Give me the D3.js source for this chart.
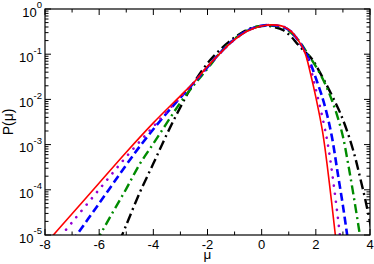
<!DOCTYPE html>
<html><head><meta charset="utf-8">
<script src="https://cdn.jsdelivr.net/npm/d3@7"></script>
<style>body{margin:0;background:#fff}svg{display:block}</style>
</head><body>
<svg id="c" width="374" height="264"></svg>
<script>
// ---- data ----
const xTicks = [-8,-6,-4,-2,0,2,4];
const yExp = [0,-1,-2,-3,-4,-5];

const muRed = [-8.0,-7.0,-6.0,-5.0,-4.0,-3.0,-2.5,-2.0,-1.5,-1.0,-0.5,0.0,0.4,0.8,1.1,1.4,1.6,1.8,2.0,2.25,2.5,2.72,2.8];
const pRed  = [6.17e-6,2.95e-5,1.41e-4,6.76e-4,3.02e-3,1.20e-2,2.40e-2,5.37e-2,0.110,0.209,0.331,0.422,0.445,0.412,0.316,0.182,0.107,3.80e-2,1.12e-2,1.91e-3,1.41e-4,1.0e-5,3.98e-6];

const muViolet = [-7.6,-7.0,-6.0,-5.0,-4.0,-3.0,-2.5,-2.0,-1.5,-1.0,-0.5,0.0,0.35,0.8,1.1,1.4,1.6,1.8,2.0,2.2,2.4,2.5,2.6,2.7,2.8,2.9,2.95];
const pViolet  = [6.92e-6,1.91e-5,1.02e-4,5.37e-4,2.51e-3,1.12e-2,2.34e-2,5.25e-2,0.111,0.211,0.335,0.427,0.442,0.407,0.316,0.182,0.112,5.01e-2,1.66e-2,5.25e-3,1.41e-3,6.31e-4,2.40e-4,8.51e-5,2.82e-5,8.91e-6,5.01e-6];

const muBlue = [-7.0,-6.0,-5.0,-4.5,-4.0,-3.5,-3.0,-2.5,-2.0,-1.5,-1.0,-0.5,0.0,0.35,0.8,1.1,1.4,1.6,1.8,2.0,2.2,2.4,2.6,2.8,3.0,3.15,3.25];
const pBlue  = [7.24e-6,5.01e-5,3.55e-4,9.12e-4,2.19e-3,5.01e-3,1.10e-2,2.34e-2,5.19e-2,0.112,0.214,0.339,0.427,0.437,0.398,0.309,0.182,0.117,6.31e-2,2.95e-2,1.32e-2,5.01e-3,1.41e-3,2.51e-4,4.47e-5,1.07e-5,3.98e-6];

const muGreen = [-6.1,-5.5,-5.0,-4.5,-4.0,-3.5,-3.0,-2.5,-2.0,-1.5,-1.0,-0.5,0.0,0.3,0.8,1.1,1.4,1.6,1.8,2.0,2.2,2.4,2.6,2.8,3.0,3.2,3.4,3.6,3.7];
const pGreen  = [7.24e-6,3.16e-5,1.05e-4,3.72e-4,1.05e-3,3.02e-3,8.51e-3,2.09e-2,4.79e-2,0.1135,0.219,0.343,0.427,0.432,0.389,0.295,0.191,0.126,8.32e-2,5.37e-2,3.31e-2,1.86e-2,9.33e-3,4.17e-3,1.51e-3,3.55e-4,7.08e-5,1.26e-5,5.01e-6];

const muBlack = [-5.25,-5.0,-4.5,-4.0,-3.5,-3.0,-2.5,-2.0,-1.5,-1.0,-0.5,0.0,0.3,0.8,1.1,1.3,1.55,1.85,2.0,2.3,2.6,2.9,3.2,3.45,3.63,3.82,4.0,4.1];
const pBlack  = [7.24e-6,1.66e-5,8.71e-5,3.80e-4,1.70e-3,6.76e-3,2.34e-2,6.31e-2,0.132,0.234,0.355,0.422,0.417,0.339,0.240,0.174,0.120,7.94e-2,5.75e-2,2.69e-2,1.20e-2,5.01e-3,1.66e-3,5.25e-4,1.91e-4,6.31e-5,1.91e-5,1.0e-5];

// ---- layout ----
const L = 45, R = 370, T = 9, B = 235;
const svg = d3.select('#c');
const x = d3.scaleLinear().domain([-8,4]).range([L,R]);
const y = d3.scaleLog().domain([1e-5,1]).range([B,T]);
const font = '"Liberation Sans", Arial, Helvetica, sans-serif';

svg.append('defs').append('clipPath').attr('id','clip')
  .append('rect').attr('x',L).attr('y',T).attr('width',R-L).attr('height',B-T);

// curves
const series = [
  {mu:muBlack, p:pBlack, color:'#000000', w:2.4, dash:'10,4,2,4', cap:'butt'},
  {mu:muGreen, p:pGreen, color:'#008b00', w:2.4, dash:'9,4,2,4', cap:'butt'},
  {mu:muBlue,  p:pBlue,  color:'#0000ff', w:2.6, dash:'8,4', cap:'butt'},
  {mu:muViolet,p:pViolet,color:'#9400d3', w:2.6, dash:'0.1,8', cap:'round'},
  {mu:muRed,   p:pRed,   color:'#ff0000', w:1.6, dash:null, cap:'butt'}
];
const line = d3.line().x(d=>x(d[0])).y(d=>y(d[1])).curve(d3.curveCatmullRom.alpha(0.5));
const g = svg.append('g').attr('clip-path','url(#clip)');
series.forEach(s=>{
  const pts = s.mu.map((m,i)=>[m,s.p[i]]);
  g.append('path').attr('d',line(pts)).attr('fill','none')
    .attr('stroke',s.color).attr('stroke-width',s.w)
    .attr('stroke-dasharray',s.dash).attr('stroke-linecap', s.cap);
});

// frame
svg.append('rect').attr('x',L).attr('y',T).attr('width',R-L).attr('height',B-T)
  .attr('fill','none').attr('stroke','#000').attr('stroke-width',1.2);

// x ticks (inward, bottom & top)
const ax = svg.append('g').attr('stroke','#000').attr('stroke-width',1);
d3.range(-8,4.01,1).forEach(v=>{
  const major = (v%2===0);
  const len = major?6:3.5;
  ax.append('line').attr('x1',x(v)).attr('x2',x(v)).attr('y1',B).attr('y2',B-len);
  ax.append('line').attr('x1',x(v)).attr('x2',x(v)).attr('y1',T).attr('y2',T+len);
});
// y ticks (inward, left & right)
yExp.forEach(e=>{
  const v = Math.pow(10,e);
  ax.append('line').attr('x1',L).attr('x2',L+6).attr('y1',y(v)).attr('y2',y(v));
  ax.append('line').attr('x1',R).attr('x2',R-6).attr('y1',y(v)).attr('y2',y(v));
  if (e>-5) for (let k=2;k<=9;k++){
    const vv = k*Math.pow(10,e-1);
    ax.append('line').attr('x1',L).attr('x2',L+3.5).attr('y1',y(vv)).attr('y2',y(vv));
    ax.append('line').attr('x1',R).attr('x2',R-3.5).attr('y1',y(vv)).attr('y2',y(vv));
  }
});

// x tick labels
xTicks.forEach(v=>{
  svg.append('text').attr('x',x(v)).attr('y',248.5).attr('text-anchor','middle')
    .attr('font-family',font).attr('font-size',13).text(String(v));
});
// y tick labels
yExp.forEach(e=>{
  const t = svg.append('text').attr('x',42).attr('y',y(Math.pow(10,e))+7.8)
    .attr('text-anchor','end').attr('font-family',font).attr('font-size',13);
  t.append('tspan').text('10');
  t.append('tspan').attr('dy',-8.4).attr('font-size',9.5).text(String(e));
});

// axis titles
svg.append('text').attr('x',(L+R)/2).attr('y',259).attr('text-anchor','middle')
  .attr('font-family',font).attr('font-size',13.5).text('μ');
svg.append('text').attr('transform',`translate(13,${(T+B)/2}) rotate(-90)`)
  .attr('text-anchor','middle').attr('font-family',font).attr('font-size',14).text('P(μ)');
</script>
</body></html>
